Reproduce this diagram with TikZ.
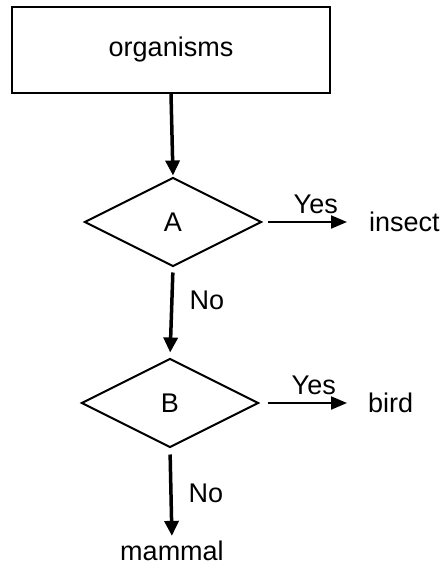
\documentclass[tikz,border=0pt]{standalone}
\usepackage{fontspec}
\setmainfont{Liberation Sans}
\usetikzlibrary{shapes.geometric,arrows.meta}
\begin{document}
\begin{tikzpicture}[x=1pt,y=-1pt,
  every node/.style={font=\fontsize{27}{30}\selectfont, inner sep=0pt},
  box/.style={draw, line width=2pt, minimum width=318pt, minimum height=86pt},
  decision/.style={draw, diamond, line width=2pt, minimum width=177pt, minimum height=89pt},
  vflow/.style={line width=3.5pt, -{Triangle[length=15pt,width=14pt]}},
  hflow/.style={line width=2pt, -{Triangle[length=16pt,width=13pt]}},
  lbl/.style={inner sep=0pt}]
\useasboundingbox (0,0) rectangle (445,568);
\node[box] (org) at (171,50) {organisms};
\node[decision] (A) at (173,222) {A};
\node[decision] (B) at (170,403) {B};
\node[anchor=west] (insect) at (369,222) {insect};
\node[anchor=west] (bird) at (368,403) {bird};
\node (mammal) at (172,551) {mammal};
\draw[vflow, shorten >=1pt] (org.south) -- (A.north);
\draw[hflow, shorten <=5pt, shorten >=22pt] (A.east) -- node[lbl, above=7pt] {Yes} (insect.west);
\draw[vflow, shorten <=5pt, shorten >=5pt] (A.south) -- node[lbl, pos=0.36, right=16pt] {No} (B.north);
\draw[hflow, shorten <=8pt, shorten >=21pt] (B.east) -- node[lbl, above=7pt] {Yes} (bird.west);
\draw[vflow, shorten <=6pt, shorten >=5pt] (B.south) -- node[lbl, pos=0.49, right=16pt] {No} (mammal.north);
\end{tikzpicture}
\end{document}
